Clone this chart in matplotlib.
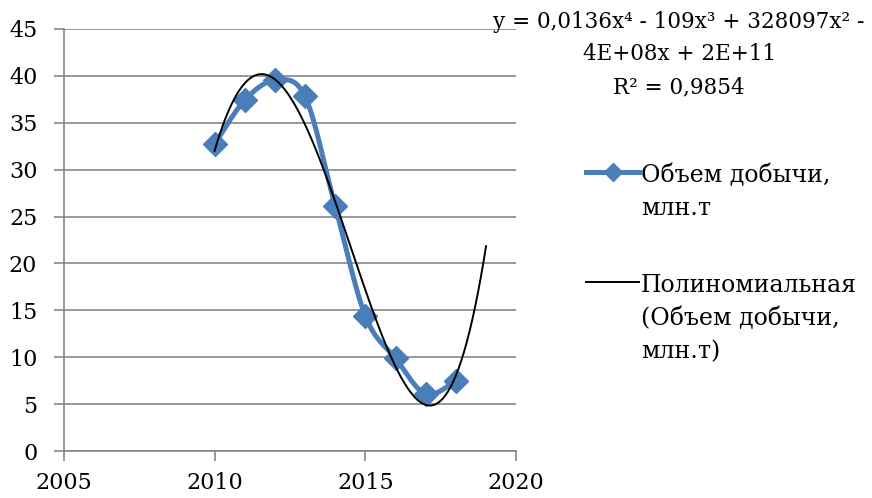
import numpy as np
import matplotlib.pyplot as plt
from matplotlib.lines import Line2D

years = [2010, 2011, 2012, 2013, 2014, 2015, 2016, 2017, 2018]
volume = [32.7, 37.4, 39.5, 37.8, 26.1, 14.4, 9.9, 6.1, 7.5]
series_label = "Объем добычи,\nмлн.т"
trend_label = "Полиномиальная\n(Объем добычи,\nмлн.т)"
equation = "y = 0,0136x⁴ - 109x³ + 328097x² -\n4E+08x + 2E+11\nR² = 0,9854"

blue = "#4A7EBB"
grid_gray = "#868686"
plt.rcParams['font.family'] = ['DejaVu Serif']


def smooth_curve(x, y, n=30):
    # Excel-style smoothed line (cubic Bezier through the points)
    x = np.asarray(x, float)
    y = np.asarray(y, float)
    px, py = [], []
    for i in range(len(x) - 1):
        i0 = max(i - 1, 0)
        i3 = min(i + 2, len(x) - 1)
        c1x = x[i] + (x[i + 1] - x[i0]) / 6
        c1y = y[i] + (y[i + 1] - y[i0]) / 6
        c2x = x[i + 1] - (x[i3] - x[i]) / 6
        c2y = y[i + 1] - (y[i3] - y[i]) / 6
        t = np.linspace(0, 1, n)
        a, b, c, d = (1 - t) ** 3, 3 * (1 - t) ** 2 * t, 3 * (1 - t) * t ** 2, t ** 3
        px.extend(a * x[i] + b * c1x + c * c2x + d * x[i + 1])
        py.extend(a * y[i] + b * c1y + c * c2y + d * y[i + 1])
    return np.array(px), np.array(py)


def text_lines(x, y_px, label, step_px, **kw):
    # one text per line, baselines step_px apart (figure height 498 px)
    for k, line in enumerate(label.split("\n")):
        fig.text(x, 1 - (y_px + k * step_px) / 498, line, va='baseline', **kw)


fig = plt.figure(figsize=(8.72, 4.98), dpi=100)
ax = fig.add_axes([0.073, 0.094, 0.519, 0.848])

sx, sy = smooth_curve(years, volume)
ax.plot(sx, sy, color=blue, lw=3.6, solid_capstyle='round', zorder=3)
ax.plot(years, volume, ls='none', marker='D', ms=12, color=blue, zorder=4)

# polynomial trendline, degree 4, forward one period
xr = np.array(years, float) - 2010
coef = np.polyfit(xr, volume, 4)
tx = np.linspace(0, xr[-1] + 1, 300)
ax.plot(tx + 2010, np.polyval(coef, tx), color='black', lw=1.4, zorder=5)

ax.set_xlim(2005, 2020)
ax.set_ylim(0, 45)
ax.set_xticks([2005, 2010, 2015, 2020])
ax.set_yticks(range(0, 50, 5))
ax.yaxis.grid(True, color=grid_gray, lw=1.2)
ax.set_axisbelow(True)
for s in ['top', 'right']:
    ax.spines[s].set_visible(False)
for s in ['left', 'bottom']:
    ax.spines[s].set_color(grid_gray)
    ax.spines[s].set_linewidth(1.2)
ax.tick_params(colors=grid_gray, length=7, width=1.2, labelcolor='black',
               labelsize=16)
ax.tick_params(axis='y', pad=12)
ax.tick_params(axis='x', pad=8)

# legend drawn by hand, Excel layout
fig.add_artist(Line2D([0.672, 0.7025, 0.733], [1 - 172 / 498] * 3, color=blue,
                      lw=3.6, marker='D', markevery=[1], ms=9))
text_lines(0.735, 182, series_label, 33, fontsize=17, ha='left')
fig.add_artist(Line2D([0.672, 0.733], [1 - 282 / 498] * 2, color='black', lw=1.4))
text_lines(0.735, 292, trend_label, 33, fontsize=17, ha='left')

text_lines(0.7787, 28, equation, 32.5, fontsize=15.5, ha='center')

fig.savefig("out.png", dpi=100)
